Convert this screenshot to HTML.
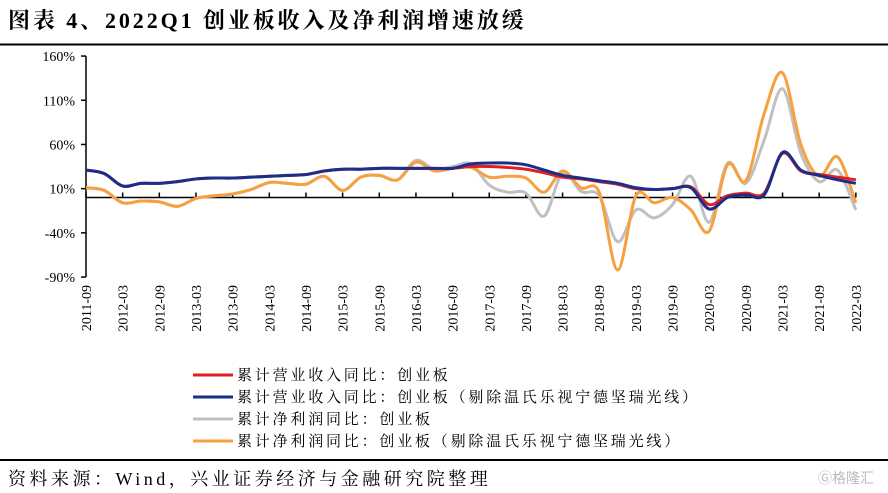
<!DOCTYPE html>
<html><head><meta charset="utf-8"><style>
body{margin:0;background:#fff;}
svg{display:block;font-family:"Liberation Serif","Noto Serif CJK SC",serif;}
</style></head><body>
<svg width="888" height="493" viewBox="0 0 888 493">
<text x="8" y="28" font-size="22" font-weight="bold" letter-spacing="2.9">图表 4、2022Q1 创业板收入及净利润增速放缓</text>
<line x1="0" y1="44.5" x2="888" y2="44.5" stroke="#000" stroke-width="2"/>
<g id="axes"></g>
<g id="series"></g>
<g id="legend" font-size="15" letter-spacing="2.8"></g>
<line x1="0" y1="460" x2="888" y2="460" stroke="#000" stroke-width="2"/>
<text x="8" y="485" font-size="18" letter-spacing="3.5">资料来源：Wind，兴业证券经济与金融研究院整理</text>
<text x="818" y="483" font-size="14" fill="#bbb" font-family="Liberation Sans,Noto Sans CJK SC,sans-serif">Ⓖ格隆汇</text>
</svg>
<script>
const yTicks=[160,110,60,10,-40,-90];
const xLabels=["2011-09","2012-03","2012-09","2013-03","2013-09","2014-03","2014-09","2015-03","2015-09","2016-03","2016-09","2017-03","2017-09","2018-03","2018-09","2019-03","2019-09","2020-03","2020-09","2021-03","2021-09","2022-03"];
const revenue=[31,27,13,16,16,18,21,22,22,23,24,25,26,30,32,32,33,33,33,33,33,35,35,34,32,28,23,21,18,15,10,9,10,12,-8,2,5,5,50,30,26,23,20];
const revenueEx=[31,27,13,16,16,18,21,22,22,23,24,25,26,30,32,32,33,33,33,33,33,38,39,39,37,31,25,22,19,16,11,9,10,11,-13,0,3,3,51,31,25,20,16];
const profit=[11,8,-6,-4,-5,-10,-1,2,4,9,17,16,15,24,8,23,25,20,42,32,35,38,14,6,5,-21,28,7,2,-50,-14,-23,-8,24,-28,39,16,65,123,50,18,31,-14];
const profitEx=[11,8,-6,-4,-5,-10,-1,2,4,9,17,16,15,24,8,23,25,20,40,30,33,34,23,24,22,6,30,11,6,-82,2,-6,0,-14,-38,37,19,95,141,60,24,46,-6];
const seriesNames=["累计营业收入同比：创业板","累计营业收入同比：创业板（剔除温氏乐视宁德坚瑞光线）","累计净利润同比：创业板","累计净利润同比：创业板（剔除温氏乐视宁德坚瑞光线）"];
const NS="http://www.w3.org/2000/svg";
const X0=86,STEP=18.33,Y0=197.5,K=0.884;
const xs=i=>X0+i*STEP, ys=v=>Y0-v*K;
function mk(tag,attrs,parent){const e=document.createElementNS(NS,tag);for(const k in attrs)e.setAttribute(k,attrs[k]);parent.appendChild(e);return e;}
const axes=document.getElementById('axes');
let e=mk('line',{x1:X0,y1:ys(160),x2:X0,y2:ys(-90),stroke:'#000','stroke-width':1.5},axes);


yTicks.forEach(v=>{
 let t=mk('line',{x1:X0-5,x2:X0,y1:ys(v),y2:ys(v),stroke:'#000','stroke-width':1.5},axes);
 
 
 let l=mk('text',{x:X0-11,y:ys(v)+5,'text-anchor':'end','font-size':14},axes);l.textContent=v+'%';
 
 
});
e=mk('line',{x1:X0,y1:Y0,x2:xs(42),y2:Y0,stroke:'#000','stroke-width':1.5},axes);


xLabels.forEach((s,j)=>{
 const x=xs(j*2);
 let t=mk('line',{x1:x,x2:x,y1:Y0-5,y2:Y0,stroke:'#000','stroke-width':1.5},axes);
 
 
 let l=mk('text',{x:0,y:0,'text-anchor':'end','font-size':14,transform:`translate(${x+5},285) rotate(-90)`},axes);l.textContent=s;
 
 
});
function path(vals){const p=vals.map((v,i)=>[xs(i),ys(v)]);let d=`M${p[0][0]},${p[0][1]}`;
 for(let i=0;i<p.length-1;i++){const a=p[Math.max(i-1,0)],b=p[i],c=p[i+1],n=p[Math.min(i+2,p.length-1)];
 d+=` C${b[0]+(c[0]-a[0])/6},${b[1]+(c[1]-a[1])/6} ${c[0]-(n[0]-b[0])/6},${c[1]-(n[1]-b[1])/6} ${c[0]},${c[1]}`;}return d;}
const sg=document.getElementById('series');
const colors=["#e02020","#1a2f8a","#c0c0c0","#f7a040"];
const order=[2,3,0,1];
const data=[revenue,revenueEx,profit,profitEx];
order.forEach(k=>{let p=mk('path',{d:path(data[k]),fill:'none',stroke:colors[k],'stroke-width':3},sg);
 
 });
const lg=document.getElementById('legend');
const ly=[375,397,419,441];
seriesNames.forEach((s,k)=>{
 let l=mk('line',{x1:193,x2:233,y1:ly[k],y2:ly[k],stroke:colors[k],'stroke-width':3},lg);
 
 
 let t=mk('text',{x:237,y:ly[k]+5},lg);t.textContent=s;
 
 
});
</script>
</body></html>
